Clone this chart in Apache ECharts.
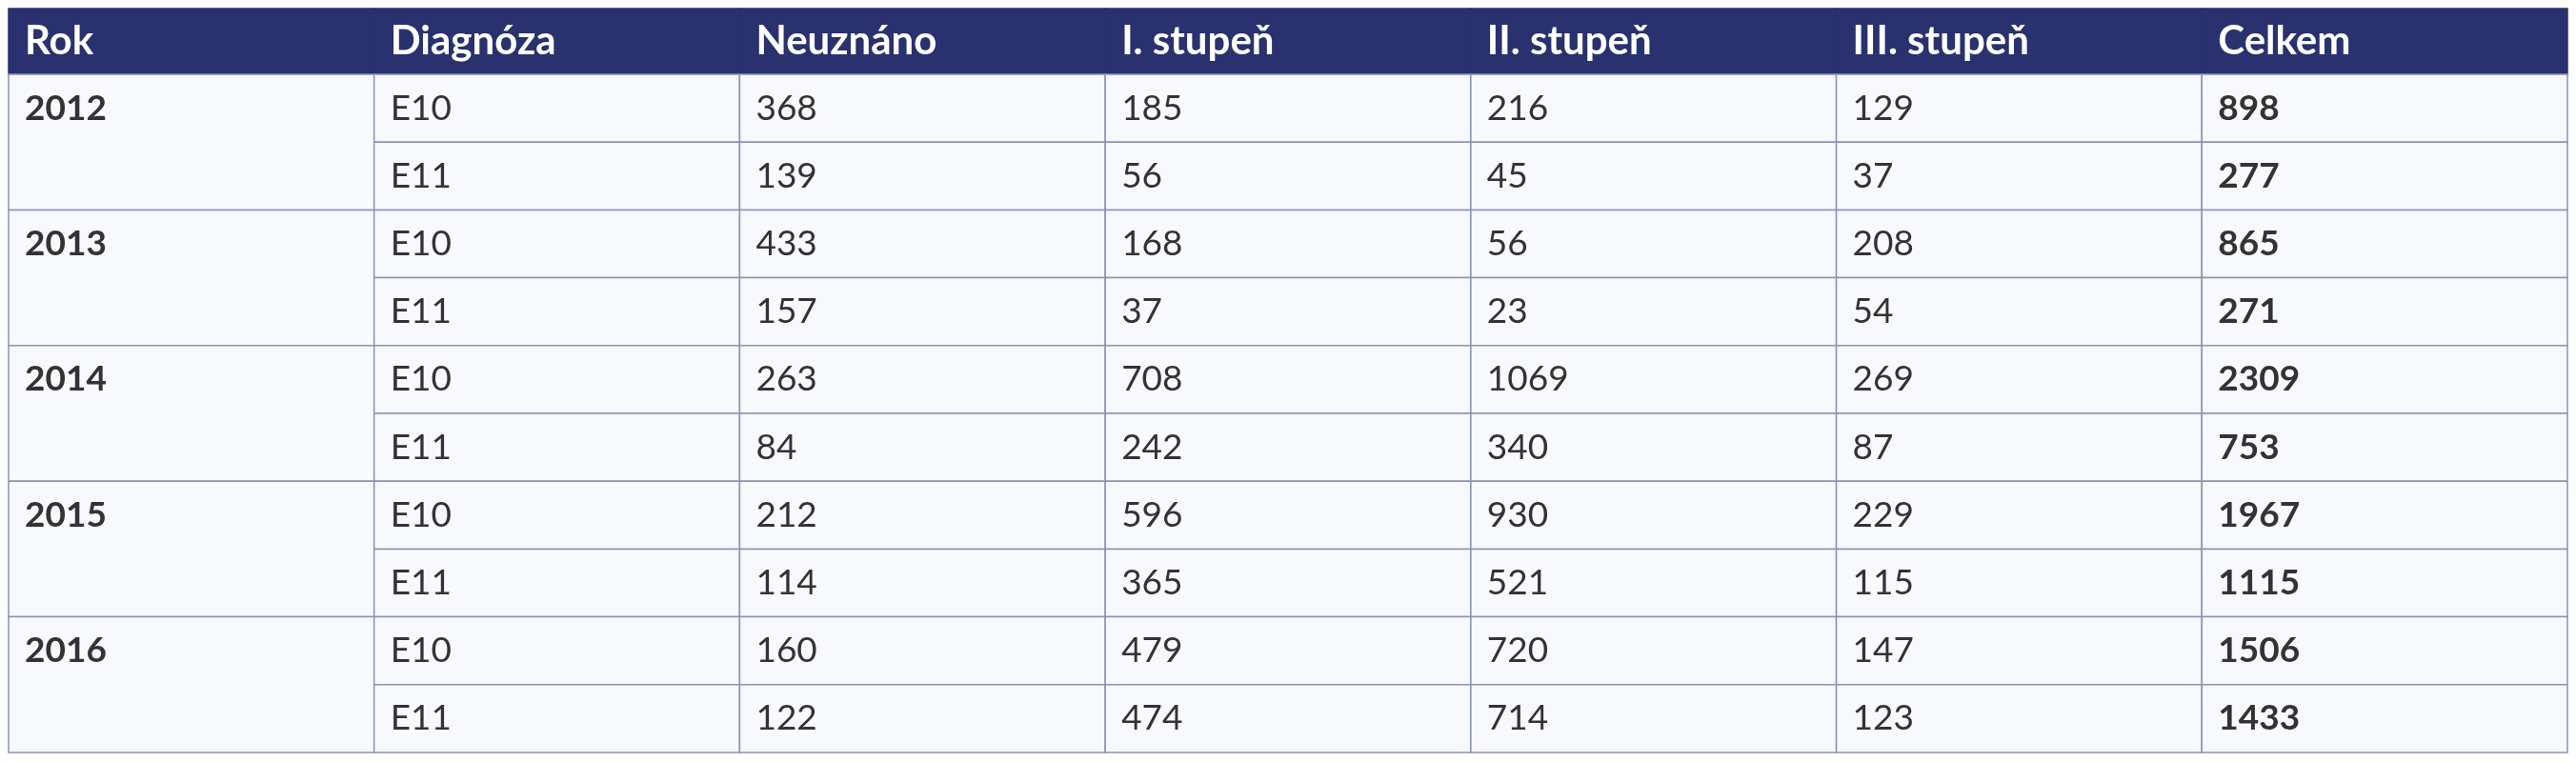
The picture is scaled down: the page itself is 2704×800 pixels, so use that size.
<!DOCTYPE html>
<html><head><meta charset="utf-8">
<script src="https://cdn.jsdelivr.net/npm/echarts@6/dist/echarts.min.js"></script>
<style>html,body{margin:0;padding:0;background:#fff}#c{width:2704px;height:800px}</style>
</head><body><div id="c"></div>
<script>
const headers = ['Rok','Diagnóza','Neuznáno','I. stupeň','II. stupeň','III. stupeň','Celkem'];
const years = ['2012','2012','2013','2013','2014','2014','2015','2015','2016','2016'];
const diagnoses = ['E10','E11','E10','E11','E10','E11','E10','E11','E10','E11'];
const neuznano = [368,139,433,157,263,84,212,114,160,122];
const stupen1 = [185,56,168,37,708,242,596,365,479,474];
const stupen2 = [216,45,56,23,1069,340,930,521,720,714];
const stupen3 = [129,37,208,54,269,87,229,115,147,123];
const celkem = [898,277,865,271,2309,753,1967,1115,1506,1433];

const cells = [];
headers.forEach((h,c)=>cells.push([c,0,1,h,'head']));
for (let r=0;r<years.length;r++){
  const row=r+1;
  if (r%2===0) cells.push([0,row,2,years[r],'year']);
  cells.push([1,row,1,diagnoses[r],'body']);
  cells.push([2,row,1,String(neuznano[r]),'body']);
  cells.push([3,row,1,String(stupen1[r]),'body']);
  cells.push([4,row,1,String(stupen2[r]),'body']);
  cells.push([5,row,1,String(stupen3[r]),'body']);
  cells.push([6,row,1,String(celkem[r]),'bold']);
}
const chart = echarts.init(document.getElementById('c'));
chart.setOption({
  animation:false,
  grid:{left:9,right:9,top:9,bottom:10},
  xAxis:{type:'value',min:0,max:7,show:false},
  yAxis:{type:'value',min:0,max:11,inverse:true,show:false},
  series:[{
    type:'custom',
    data:cells,
    renderItem:function(params,api){
      const c=api.value(0), r=api.value(1), span=api.value(2);
      const d=cells[params.dataIndex];
      const kind=d[4], txt=d[3];
      const p0=api.coord([c,r]); const p1=api.coord([c+1,r+span]);
      const x=p0[0], w=p1[0]-p0[0];
      const total=api.coord([0,11])[1]-api.coord([0,0])[1];
      const top=api.coord([0,0])[1];
      const headH=69, rowH=(total-headH)/10;
      let y,h;
      if (r===0){y=top;h=headH;} else {y=top+headH+(r-1)*rowH;h=rowH*span;}
      const isHead=kind==='head';
      const textY = isHead? y+h/2 : y+rowH/2;
      return {type:'group',children:[
        {type:'rect',shape:{x:x,y:y,width:w,height:h},
         style:{fill:isHead?'#2a316f':'#f7f9fc',stroke:isHead?'#2a316f':'#8a93b5',lineWidth:1.5}},
        {type:'text',x:x+17,y:textY,style:{text:txt,verticalAlign:'middle',
          fill:isHead?'#ffffff':'#333333',fontFamily:'Lato, "Open Sans", sans-serif',fontSize:isHead?42:37,
          fontWeight:(isHead||kind==='year'||kind==='bold')?'bold':'normal'}}
      ]};
    }
  }]
});
</script></body></html>
